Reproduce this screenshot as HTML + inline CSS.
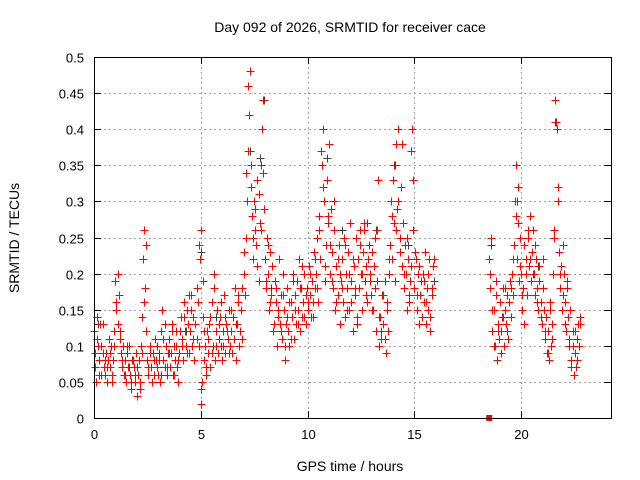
<!DOCTYPE html>
<html><head><meta charset="utf-8"><style>
body{margin:0;background:#fff}
svg{display:block;font-family:"Liberation Sans",sans-serif}
</style></head><body>
<svg id="chart" width="640" height="480" viewBox="0 0 640 480"></svg>
<script>
const hours=[
0.02,0.05,0.1,0.15,0.2,0.25,0.3,0.35,0.4,0.45,
0.5,0.55,0.6,0.65,0.7,0.75,0.8,0.85,0.9,0.95,
1.0,1.05,1.1,1.15,1.2,1.25,1.3,1.35,1.4,1.45,
1.5,1.55,1.6,1.65,1.7,1.75,1.8,1.85,1.9,1.95,
2.0,2.05,2.1,2.15,2.2,2.25,2.3,2.35,2.4,2.45,
2.5,2.55,2.6,2.65,2.7,2.75,2.8,2.85,2.9,2.95,
3.0,3.05,3.1,3.15,3.2,3.25,3.3,3.35,3.4,3.45,
3.5,3.55,3.6,3.65,3.7,3.75,3.8,3.85,3.9,3.95,
4.0,4.05,4.1,4.15,4.2,4.25,4.3,4.35,4.4,4.45,
4.5,4.55,4.6,4.65,4.7,4.75,4.8,4.85,4.9,4.95,
5.0,5.02,5.05,5.08,5.1,5.15,5.2,5.25,5.3,5.35,
5.4,5.45,5.5,5.55,5.6,5.65,5.7,5.75,5.8,5.85,
5.9,5.95,6.0,6.05,6.1,6.15,6.2,6.25,6.3,6.35,
6.4,6.45,6.5,6.55,6.6,6.65,6.7,6.75,6.8,6.85,
6.9,6.95,7.0,7.05,7.1,7.15,7.2,7.25,7.3,7.35,
7.4,7.45,7.5,7.55,7.6,7.65,7.7,7.75,7.8,7.85,
7.9,7.95,8.0,8.05,8.1,8.15,8.2,8.25,8.3,8.35,
8.4,8.45,8.5,8.55,8.6,8.65,8.7,8.75,8.8,8.85,
8.9,8.95,9.0,9.05,9.1,9.15,9.2,9.25,9.3,9.35,
9.4,9.45,9.5,9.55,9.6,9.65,9.7,9.75,9.8,9.85,
9.9,9.95,10.0,10.05,10.1,10.15,10.2,10.25,10.3,10.35,
10.4,10.45,10.5,10.55,10.6,10.65,10.7,10.75,10.8,10.85,
10.9,10.95,11.0,11.05,11.1,11.15,11.2,11.25,11.3,11.35,
11.4,11.45,11.5,11.55,11.6,11.65,11.7,11.75,11.8,11.85,
11.9,11.95,12.0,12.05,12.1,12.15,12.2,12.25,12.3,12.35,
12.4,12.45,12.5,12.55,12.6,12.65,12.7,12.75,12.8,12.85,
12.9,12.95,13.0,13.05,13.1,13.15,13.2,13.25,13.3,13.35,
13.4,13.45,13.5,13.55,13.6,13.65,13.7,13.75,13.8,13.85,
13.9,13.95,14.0,14.05,14.1,14.15,14.2,14.25,14.3,14.35,
14.4,14.45,14.5,14.55,14.6,14.65,14.7,14.75,14.8,14.85,
14.9,14.95,15.0,15.05,15.1,15.15,15.2,15.25,15.3,15.35,
15.4,15.45,15.5,15.55,15.6,15.65,15.7,15.75,15.8,15.85,
18.5,18.55,18.6,18.65,18.7,18.75,18.8,18.85,18.9,18.95,
19.0,19.05,19.1,19.15,19.2,19.25,19.3,19.35,19.4,19.45,
19.5,19.55,19.6,19.65,19.7,19.75,19.8,19.85,19.9,19.95,
20.0,20.05,20.1,20.15,20.2,20.25,20.3,20.35,20.4,20.45,
20.5,20.55,20.6,20.65,20.7,20.75,20.8,20.85,20.9,20.95,
21.0,21.05,21.1,21.15,21.2,21.25,21.3,21.35,21.4,21.45,
21.5,21.55,21.6,21.65,21.7,21.75,21.8,21.85,21.9,21.95,
22.0,22.05,22.1,22.15,22.2,22.25,22.3,22.35,22.4,22.45,
22.5,22.55,22.6,22.65,22.7,22.75];
const tec=[
0.12,0.07,0.05,0.14,0.1,0.08,0.13,0.06,0.09,0.07,
0.06,0.09,0.05,0.08,0.11,0.07,0.1,0.06,0.08,0.12,
0.19,0.16,0.13,0.17,0.12,0.09,0.07,0.1,0.06,0.08,
0.05,0.09,0.07,0.1,0.06,0.04,0.08,0.07,0.05,0.09,
0.03,0.06,0.08,0.05,0.1,0.14,0.22,0.26,0.18,0.12,
0.08,0.06,0.1,0.07,0.05,0.09,0.06,0.11,0.08,0.07,
0.06,0.09,0.05,0.12,0.15,0.08,0.07,0.1,0.06,0.09,
0.11,0.07,0.09,0.13,0.06,0.1,0.08,0.12,0.07,0.05,
0.09,0.14,0.11,0.08,0.16,0.12,0.1,0.15,0.13,0.09,
0.12,0.17,0.1,0.14,0.08,0.13,0.11,0.16,0.1,0.22,
0.26,0.02,0.05,0.19,0.14,0.08,0.1,0.06,0.12,0.09,
0.13,0.07,0.16,0.1,0.2,0.08,0.12,0.15,0.09,0.11,
0.14,0.1,0.08,0.12,0.17,0.09,0.13,0.11,0.15,0.1,
0.12,0.09,0.14,0.11,0.18,0.08,0.13,0.16,0.1,0.12,
0.15,0.11,0.2,0.17,0.25,0.3,0.37,0.42,0.48,0.35,
0.28,0.22,0.3,0.26,0.24,0.33,0.19,0.27,0.35,0.4,
0.44,0.29,0.22,0.18,0.25,0.2,0.15,0.23,0.17,0.21,
0.12,0.19,0.16,0.1,0.14,0.22,0.13,0.17,0.11,0.2,
0.15,0.08,0.13,0.18,0.12,0.1,0.16,0.14,0.2,0.11,
0.17,0.13,0.19,0.15,0.22,0.12,0.18,0.14,0.16,0.2,
0.13,0.18,0.15,0.21,0.17,0.14,0.19,0.16,0.23,0.18,
0.2,0.25,0.16,0.28,0.22,0.35,0.4,0.3,0.19,0.24,
0.33,0.27,0.38,0.2,0.29,0.23,0.18,0.26,0.15,0.21,
0.17,0.24,0.13,0.19,0.22,0.16,0.25,0.14,0.2,0.18,
0.23,0.15,0.27,0.19,0.12,0.21,0.17,0.25,0.14,0.22,
0.18,0.26,0.2,0.15,0.23,0.27,0.19,0.21,0.16,0.24,
0.2,0.17,0.23,0.15,0.21,0.18,0.12,0.26,0.33,0.1,
0.14,0.11,0.17,0.13,0.19,0.09,0.16,0.12,0.2,0.24,
0.3,0.22,0.33,0.27,0.19,0.38,0.29,0.4,0.25,0.32,
0.21,0.27,0.18,0.24,0.2,0.15,0.22,0.17,0.19,0.37,
0.4,0.26,0.18,0.22,0.15,0.2,0.13,0.17,0.19,0.14,
0.2,0.16,0.23,0.13,0.18,0.15,0.22,0.12,0.17,0.21,
0.22,0.18,0.25,0.12,0.15,0.1,0.19,0.08,0.13,0.11,
0.16,0.12,0.14,0.18,0.1,0.15,0.13,0.17,0.11,0.19,
0.14,0.2,0.17,0.24,0.3,0.35,0.22,0.27,0.19,0.25,
0.2,0.15,0.18,0.13,0.22,0.17,0.25,0.21,0.28,0.19,
0.23,0.26,0.2,0.17,0.22,0.18,0.15,0.21,0.16,0.13,
0.18,0.15,0.11,0.14,0.09,0.12,0.08,0.16,0.1,0.13,
0.2,0.26,0.44,0.4,0.32,0.23,0.18,0.21,0.15,0.24,
0.2,0.16,0.12,0.18,0.14,0.1,0.15,0.08,0.12,0.06,
0.09,0.07,0.11,0.13,0.1,0.14];
const hours2=[
0.03,0.13,0.23,0.33,0.43,0.53,0.63,0.73,0.83,0.93,
1.03,1.13,1.23,1.33,1.43,1.53,1.63,1.73,1.83,1.93,
2.03,2.13,2.23,2.33,2.43,2.53,2.63,2.73,2.83,2.93,
3.03,3.13,3.23,3.33,3.43,3.53,3.63,3.73,3.83,3.93,
4.03,4.13,4.23,4.33,4.43,4.53,4.63,4.73,4.83,4.93,
5.03,5.13,5.23,5.33,5.43,5.53,5.63,5.73,5.83,5.93,
6.03,6.13,6.23,6.33,6.43,6.53,6.63,6.73,6.83,6.93,
7.03,7.13,7.23,7.33,7.43,7.53,7.63,7.73,7.83,7.93,
8.03,8.13,8.23,8.33,8.43,8.53,8.63,8.73,8.83,8.93,
9.03,9.13,9.23,9.33,9.43,9.53,9.63,9.73,9.83,9.93,
10.03,10.13,10.23,10.33,10.43,10.53,10.63,10.73,10.83,10.93,
11.03,11.13,11.23,11.33,11.43,11.53,11.63,11.73,11.83,11.93,
12.03,12.13,12.23,12.33,12.43,12.53,12.63,12.73,12.83,12.93,
13.03,13.13,13.23,13.33,13.43,13.53,13.63,13.73,13.83,13.93,
14.03,14.13,14.23,14.33,14.43,14.53,14.63,14.73,14.83,14.93,
15.03,15.13,15.23,15.33,15.43,15.53,15.63,15.73,15.83,15.93,
18.53,18.63,18.73,18.83,18.93,19.03,19.13,19.23,19.33,19.43,
19.53,19.63,19.73,19.83,19.93,20.03,20.13,20.23,20.33,20.43,
20.53,20.63,20.73,20.83,20.93,21.03,21.13,21.23,21.33,21.43,
21.53,21.63,21.73,21.83,21.93,22.03,22.13,22.23,22.33,22.43,
22.53,22.63,22.73];
const tec2=[
0.09,0.11,0.06,0.1,0.13,0.08,0.07,0.09,0.05,0.1,
0.15,0.2,0.11,0.08,0.06,0.1,0.07,0.05,0.08,0.06,
0.07,0.04,0.09,0.16,0.24,0.07,0.09,0.05,0.08,0.1,
0.08,0.06,0.11,0.13,0.07,0.09,0.12,0.06,0.1,0.08,
0.12,0.1,0.14,0.09,0.17,0.15,0.11,0.13,0.18,0.24,
0.04,0.12,0.07,0.11,0.14,0.09,0.18,0.1,0.13,0.16,
0.1,0.14,0.12,0.09,0.15,0.11,0.13,0.17,0.12,0.18,
0.23,0.34,0.46,0.32,0.25,0.29,0.21,0.31,0.26,0.34,
0.19,0.24,0.16,0.21,0.13,0.18,0.15,0.12,0.17,0.1,
0.14,0.16,0.11,0.19,0.15,0.13,0.18,0.21,0.14,0.17,
0.16,0.2,0.14,0.22,0.18,0.26,0.37,0.32,0.21,0.28,
0.24,0.19,0.3,0.16,0.22,0.2,0.18,0.24,0.15,0.2,
0.16,0.22,0.18,0.13,0.24,0.2,0.26,0.17,0.22,0.19,
0.15,0.25,0.19,0.14,0.12,0.17,0.11,0.15,0.22,0.28,
0.35,0.26,0.3,0.23,0.38,0.2,0.25,0.16,0.21,0.33,
0.23,0.17,0.21,0.14,0.19,0.16,0.2,0.14,0.18,0.22,
0.2,0.15,0.1,0.17,0.12,0.09,0.14,0.18,0.12,0.16,
0.18,0.22,0.28,0.32,0.21,0.17,0.24,0.2,0.26,0.22,
0.2,0.24,0.16,0.19,0.14,0.22,0.12,0.09,0.15,0.11,
0.25,0.41,0.3,0.2,0.17,0.13,0.19,0.11,0.07,0.1,
0.12,0.08,0.13];
const hoursBlack=[0.2,1.1,2.6,4.3,5.0,5.7,7.3,7.75,7.95,8.3,10.9,11.6,12.8,13.2,14.1,14.7,15.9,18.6,19.8,20.8,21.6,22.3];
const tecBlack=[0.13,0.2,0.1,0.12,0.23,0.14,0.37,0.36,0.44,0.18,0.36,0.26,0.27,0.26,0.35,0.24,0.19,0.24,0.3,0.21,0.41,0.15];
const zeroHours=[18.5];
const zeroVals=[0];
const xTicks=[0,5,10,15,20];
const yTicks=[0,0.05,0.1,0.15,0.2,0.25,0.3,0.35,0.4,0.45,0.5];
const yTickLabels=["0","0.05","0.1","0.15","0.2","0.25","0.3","0.35","0.4","0.45","0.5"];

const L=94,R=611,T=57,B=418,XMAX=24.2,YMAX=0.5;
const sx=v=>L+v/XMAX*(R-L);
const sy=v=>B-v/YMAX*(B-T);
const svg=document.getElementById('chart');
const NS='http://www.w3.org/2000/svg';
function mk(tag,attrs,parent){const e=document.createElementNS(NS,tag);for(const k in attrs)e.setAttribute(k,attrs[k]);(parent||svg).appendChild(e);return e;}

const grid=mk('g',{});


xTicks.forEach(t=>{const x=Math.round(sx(t))+0.5;
 if(t>0)mk('line',{x1:x,y1:T,x2:x,y2:B,stroke:'#a0a0a0','stroke-dasharray':'2,3'},grid);
 mk('line',{x1:x,y1:B,x2:x,y2:B-7,stroke:'#000'},grid);
 mk('line',{x1:x,y1:T,x2:x,y2:T+7,stroke:'#000'},grid);
 const lab=mk('text',{x:x,y:B+21,'text-anchor':'middle','font-size':13,fill:'#000'});
 
 
 lab.textContent=t;});
yTicks.forEach((t,i)=>{const y=Math.round(sy(t))+0.5;
 if(t>0&&t<YMAX)mk('line',{x1:L,y1:y,x2:R,y2:y,stroke:'#a0a0a0','stroke-dasharray':'2,3'},grid);
 mk('line',{x1:L,y1:y,x2:L+7,y2:y,stroke:'#000'},grid);
 mk('line',{x1:R,y1:y,x2:R-7,y2:y,stroke:'#000'},grid);
 const lab=mk('text',{x:L-10,y:y+5,'text-anchor':'end','font-size':13,fill:'#000'});
 
 
 lab.textContent=yTickLabels[i];});

function plus(g,h,v,c){const x=Math.round(sx(h))+0.5,y=Math.round(sy(v))+0.5;
 const p=mk('path',{d:`M${x-4} ${y}H${x+4}M${x} ${y-4}V${y+4}`,stroke:c,'stroke-width':1,fill:'none'},g);
 
 }
const gB=mk('g',{});


hoursBlack.forEach((h,i)=>plus(gB,h,tecBlack[i],'#404040'));
const gR=mk('g',{});


hours.forEach((h,i)=>plus(gR,h,tec[i],'#ff0000'));
hours2.forEach((h,i)=>plus(gR,h,tec2[i],'#ff0000'));
zeroHours.forEach((h,i)=>{const s=mk('rect',{x:sx(h)-3,y:sy(zeroVals[i])-3,width:6,height:6,fill:'#ff0000'});
 
 });

const frame=mk('rect',{x:L+0.5,y:T+0.5,width:R-L,height:B-T,fill:'none',stroke:'#000'});


const title=mk('text',{x:350,y:32,'text-anchor':'middle','font-size':14,fill:'#000'});


title.textContent='Day 092 of 2026, SRMTID for receiver cace';
const xl=mk('text',{x:350,y:471,'text-anchor':'middle','font-size':14,fill:'#000'});


xl.textContent='GPS time / hours';
const yl=mk('text',{x:0,y:0,'text-anchor':'middle','font-size':14,fill:'#000',transform:'translate(19,238) rotate(-90)'});


yl.textContent='SRMTID / TECUs';
</script>
</body></html>
